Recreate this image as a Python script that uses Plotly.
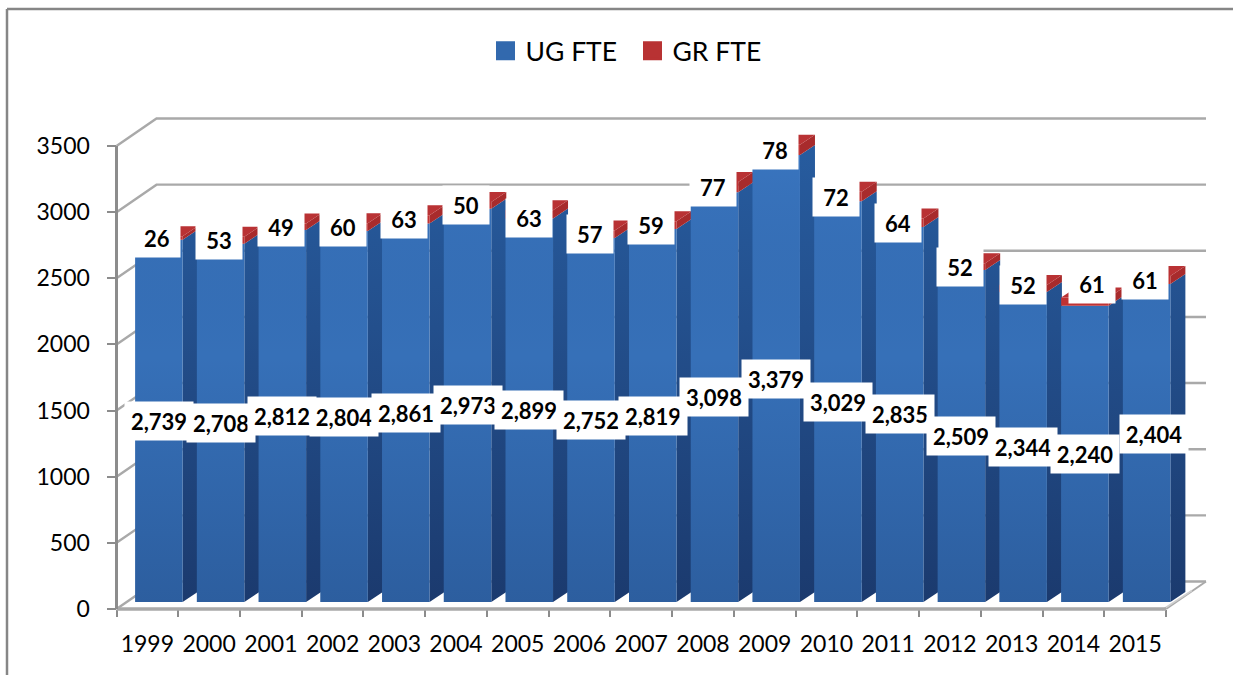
import plotly.graph_objects as go

years = ["1999","2000","2001","2002","2003","2004","2005","2006","2007","2008","2009","2010","2011","2012","2013","2014","2015"]
ug_fte = [2739,2708,2812,2804,2861,2973,2899,2752,2819,3098,3379,3029,2835,2509,2344,2240,2404]
gr_fte = [26,53,49,60,63,50,63,57,59,77,78,72,64,52,52,61,61]
y_ticks = [0,500,1000,1500,2000,2500,3000,3500]

W, H = 1233, 675
# front plane of the chart in pixels
FX0, FX1, FY0, FY1 = 116.5, 1166.0, 609.0, 146.0
cat_px = (FX1 - FX0) / len(years)
k = (FY0 - FY1) / 3500.0      # pixels per unit
# overlay ("depth") axes cover the front plane plus the back wall, with a little room round it
WX0, WX1, WY0, WY1 = 100.0, 1215.0, 625.0, 105.0
px2x = lambda p: p / cat_px
px2y = lambda p: p / k

bar_w = 47.5 / cat_px
bar_ox = px2x(11.5)
bar_base = px2y(7)
side_dx, side_dy = px2x(15), px2y(10)
wall_dx, wall_dy = px2x(40), px2y(27.5)
centers = [i + bar_ox for i in range(len(years))]
left_x, right_x = -0.5, len(years) - 0.5

GRID = "#a9a9a9"
AXIS = "#8c8c8c"

def polys(rows):
    xs, ys = [], []
    for r in rows:
        xs += [p[0] for p in r] + [r[0][0], None]
        ys += [p[1] for p in r] + [r[0][1], None]
    return xs, ys

def face(fn):
    return polys([fn(i) for i in range(len(years))])

fig = go.Figure()

# invisible carrier so the front axes are drawn
fig.add_trace(go.Scatter(x=years, y=[a + b for a, b in zip(ug_fte, gr_fte)], mode="markers",
                         marker=dict(opacity=0), showlegend=False, hoverinfo="skip", xaxis="x", yaxis="y"))

def world(tr, z):
    tr.update(xaxis="x2", yaxis="y2", showlegend=False, hoverinfo="skip", zorder=z)
    fig.add_trace(tr)

# back wall grid lines, side wall diagonals, floor
gx, gy = [], []
for t in y_ticks:
    gx += [left_x, left_x + wall_dx, right_x + wall_dx, None]
    gy += [t, t + wall_dy, t + wall_dy, None]
world(go.Scatter(x=gx, y=gy, mode="lines", line=dict(color=GRID, width=2.4)), 0)
world(go.Scatter(x=[right_x, right_x + wall_dx], y=[0, wall_dy], mode="lines", line=dict(color=GRID, width=2)), 0)
world(go.Scatter(x=[right_x - px2x(4), right_x + wall_dx - px2x(14)], y=[px2y(-1), wall_dy - px2y(9)],
                 mode="lines", line=dict(color="#d0d0d0", width=1.5)), 0)
# front axis lines
world(go.Scatter(x=[left_x, right_x], y=[0, 0], mode="lines", line=dict(color=GRID, width=3.5)), 0)
world(go.Scatter(x=[left_x, left_x], y=[0, 3500], mode="lines", line=dict(color=AXIS, width=3)), 0)

def side(lo, hi):
    def f(i):
        c = centers[i] + bar_w / 2
        return [(c, bar_base + lo[i]), (c + side_dx, bar_base + lo[i] + side_dy),
                (c + side_dx, bar_base + hi[i] + side_dy), (c, bar_base + hi[i])]
    return f

zero = [0] * len(years)
tot = [a + b for a, b in zip(ug_fte, gr_fte)]

# side faces
x, y = face(side(zero, ug_fte))
world(go.Scatter(x=x, y=y, mode="lines", line=dict(width=0), fill="toself", fillcolor="#234f8a",
                 fillgradient=dict(type="vertical", colorscale=[[0, "#1b3a6e"], [0.6, "#234f8c"], [1, "#275c9f"]])), 1)
x, y = face(side(ug_fte, tot))
world(go.Scatter(x=x, y=y, mode="lines", line=dict(width=0), fill="toself", fillcolor="#a82b2c"), 1)

# top faces
def top(i):
    c = centers[i]
    h = bar_base + tot[i]
    return [(c - bar_w/2, h), (c - bar_w/2 + side_dx, h + side_dy), (c + bar_w/2 + side_dx, h + side_dy), (c + bar_w/2, h)]
x, y = face(top)
world(go.Scatter(x=x, y=y, mode="lines", line=dict(width=0), fill="toself", fillcolor="#b93234"), 1)

# front faces
world(go.Bar(x=centers, y=ug_fte, base=bar_base, width=bar_w, name="UG FTE", marker=dict(color="#3670b8", line=dict(width=0))), 2)
world(go.Bar(x=centers, y=gr_fte, base=[bar_base + v for v in ug_fte], width=bar_w, name="GR FTE",
             marker=dict(color="#c03233", line=dict(width=0))), 2)

# vertical shading over the blue fronts
def shade(i):
    c = centers[i]
    return [(c - bar_w/2, bar_base), (c + bar_w/2, bar_base), (c + bar_w/2, bar_base + ug_fte[i]), (c - bar_w/2, bar_base + ug_fte[i])]
x, y = face(shade)
world(go.Scatter(x=x, y=y, mode="lines", line=dict(width=0), fill="toself", fillcolor="rgba(0,0,0,0)",
                 fillgradient=dict(type="vertical", colorscale=[[0, "rgba(10,30,70,0.22)"], [0.55, "rgba(10,30,70,0)"], [1, "rgba(80,150,240,0.12)"]])), 3)

# legend entries
fig.add_trace(go.Scatter(x=[None], y=[None], mode="markers", name="UG FTE", xaxis="x2", yaxis="y2",
                         marker=dict(symbol="square", size=16, color="#3269ae", line=dict(color="#3269ae", width=3))))
fig.add_trace(go.Scatter(x=[None], y=[None], mode="markers", name="GR FTE", xaxis="x2", yaxis="y2",
                         marker=dict(symbol="square", size=16, color="#b83233", line=dict(color="#b83233", width=3))))

# data labels
label_font = dict(family="Lato, Carlito, sans-serif", size=22, color="#000000")
nudge = {("GR", "2014"): (7.5, -18), ("UG", "2015"): (7, -9), ("GR", "2013"): (0, -3), ("GR", "2005"): (0, 4)}
ann = []
for i, yr in enumerate(years):
    sx, sy = nudge.get(("GR", yr), (-1.5, 0))
    ann.append(dict(x=centers[i], y=bar_base + ug_fte[i] + gr_fte[i] / 2, xref="x2", yref="y2", text=f"<b>{gr_fte[i]}</b>",
                    showarrow=False, bgcolor="white", width=44, height=36, font=label_font, xshift=sx, yshift=-sy))
for i, yr in enumerate(years):
    sx, sy = nudge.get(("UG", yr), (0, 0))
    ann.append(dict(x=centers[i], y=bar_base + ug_fte[i] / 2, xref="x2", yref="y2", text=f"<b>{ug_fte[i]:,}</b>",
                    showarrow=False, bgcolor="white", width=66, height=36, font=label_font, xshift=sx, yshift=-sy))

tick_font = dict(family="Lato, Carlito, sans-serif", size=23, color="#000000")
fig.update_layout(
    width=W, height=H, margin=dict(l=0, r=0, t=0, b=0, autoexpand=False), autosize=False,
    paper_bgcolor="white", plot_bgcolor="rgba(0,0,0,0)", barmode="overlay",
    annotations=ann,
    legend=dict(orientation="h", x=485.5 / W, xanchor="left", y=1 - 27 / H, yanchor="top",
                font=dict(family="Lato, Carlito, sans-serif", size=26.5, color="#000000"),
                itemsizing="trace", entrywidth=102, entrywidthmode="pixels", bgcolor="rgba(0,0,0,0)"),
    xaxis=dict(type="category", domain=[FX0 / W, FX1 / W], anchor="y", categoryorder="array", categoryarray=years,
               range=[-0.5, len(years) - 0.5],
               tickson="boundaries", ticks="outside", ticklen=7, tickwidth=2, tickcolor=AXIS, showgrid=False, zeroline=False,
               showline=False, tickfont=tick_font, tickangle=0, ticklabelstandoff=19, fixedrange=True),
    yaxis=dict(domain=[1 - FY0 / H, 1 - FY1 / H], anchor="x", range=[0, 3500], tickvals=y_ticks, ticks="outside", ticklen=9,
               tickwidth=2, tickcolor=AXIS, showgrid=False, zeroline=False, showline=False,
               tickfont=tick_font, ticklabelstandoff=12, fixedrange=True),
    xaxis2=dict(domain=[WX0 / W, WX1 / W], anchor="y2", range=[left_x - px2x(FX0 - WX0), left_x + px2x(WX1 - FX0)], visible=False, fixedrange=True),
    yaxis2=dict(domain=[1 - WY0 / H, 1 - WY1 / H], anchor="x2", range=[-px2y(WY0 - FY0), px2y(FY0 - WY1)], visible=False, fixedrange=True),
    shapes=[dict(type="line", xref="paper", yref="paper", x0=7 / W, x1=7 / W, y0=0, y1=1 - 9 / H, line=dict(color="#868686", width=2.5)),
            dict(type="line", xref="paper", yref="paper", x0=7 / W, x1=1, y0=1 - 9 / H, y1=1 - 9 / H, line=dict(color="#868686", width=2.5))],
)
fig.write_html("out.html", config=dict(displayModeBar=False), post_script="document.body.style.margin='0';")
